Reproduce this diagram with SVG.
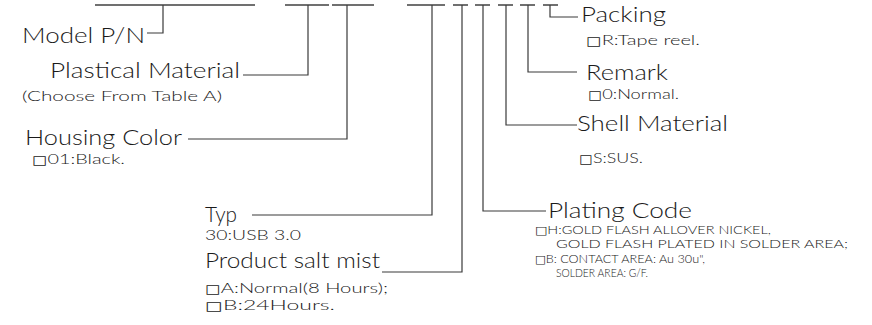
<svg xmlns="http://www.w3.org/2000/svg" width="872" height="325" viewBox="0 0 872 325">
<style>
.ln{fill:none;stroke:#3a3a3a;stroke-width:1.2}
.top{fill:none;stroke:#707070;stroke-width:2}
text{font-family:"Lato","Liberation Sans",sans-serif;fill:#1a1a1a;font-weight:300}
.b{font-size:21px}
.s{font-size:14.5px}
.p{font-size:12.3px}
.bx{font-family:"DejaVu Sans",sans-serif;font-size:12px;font-weight:normal}
.bp{font-family:"DejaVu Sans",sans-serif;font-size:11px;font-weight:normal}
</style>
<rect width="872" height="325" fill="#ffffff"/>
<g id="connectors">
<path class="top" d="M95 5H255M285 5H329M332 5H374M407 5H445M453 5H468M475 5H490M498 5H513M520 5H535M543 5H558"/>
<path class="ln" d="M163 5V33H147"/>
<path class="ln" d="M308 5V75H243"/>
<path class="ln" d="M347 5V139H188"/>
<path class="ln" d="M432 5V215H252"/>
<path class="ln" d="M462 5V272H382"/>
<path class="ln" d="M483 5V211H546"/>
<path class="ln" d="M506 5V125H577"/>
<path class="ln" d="M528 5V72H577"/>
<path class="ln" d="M550 5V17H578"/>
</g>
<g id="model"><text class="b" x="22" y="43" textLength="123" lengthAdjust="spacingAndGlyphs">Model P/N</text></g>
<g id="plastical">
<text class="b" x="50" y="78" textLength="190" lengthAdjust="spacingAndGlyphs">Plastical Material</text>
<text class="s" x="22" y="101" textLength="200" lengthAdjust="spacingAndGlyphs">(Choose From Table A)</text>
</g>
<g id="housing">
<text class="b" x="25" y="145" textLength="157" lengthAdjust="spacingAndGlyphs">Housing Color</text>
<text class="s" x="32" y="164" textLength="93" lengthAdjust="spacingAndGlyphs"><tspan class="bx">□</tspan>01:Black.</text>
</g>
<g id="typ">
<text class="b" x="205" y="222" textLength="32" lengthAdjust="spacingAndGlyphs">Typ</text>
<text class="s" x="205" y="240" textLength="96" lengthAdjust="spacingAndGlyphs">30:USB 3.0</text>
</g>
<g id="salt">
<text class="b" x="205" y="268" textLength="175" lengthAdjust="spacingAndGlyphs">Product salt mist</text>
<text class="s" x="205" y="293" textLength="183" lengthAdjust="spacingAndGlyphs"><tspan class="bx">□</tspan>A:Normal(8 Hours);</text>
<text class="s" x="205" y="310" textLength="130" lengthAdjust="spacingAndGlyphs"><tspan class="bx">□</tspan>B:24Hours.</text>
</g>
<g id="plating">
<text class="b" x="548" y="218" textLength="144" lengthAdjust="spacingAndGlyphs">Plating Code</text>
<text class="p" x="535" y="233.5" textLength="236" lengthAdjust="spacingAndGlyphs"><tspan class="bp">□</tspan>H:GOLD FLASH ALLOVER NICKEL,</text>
<text class="p" x="556" y="248" textLength="292" lengthAdjust="spacingAndGlyphs">GOLD FLASH PLATED IN SOLDER AREA;</text>
<text class="p" x="535" y="262.5" textLength="170" lengthAdjust="spacingAndGlyphs"><tspan class="bp">□</tspan>B: CONTACT AREA: Au 30u",</text>
<text class="p" x="556" y="277" textLength="92" lengthAdjust="spacingAndGlyphs">SOLDER AREA: G/F.</text>
</g>
<g id="shell">
<text class="b" x="577" y="131" textLength="151" lengthAdjust="spacingAndGlyphs">Shell Material</text>
<text class="s" x="579" y="163" textLength="64" lengthAdjust="spacingAndGlyphs"><tspan class="bx">□</tspan>S:SUS.</text>
</g>
<g id="remark">
<text class="b" x="586" y="80" textLength="82" lengthAdjust="spacingAndGlyphs">Remark</text>
<text class="s" x="588" y="99" textLength="91" lengthAdjust="spacingAndGlyphs"><tspan class="bx">□</tspan>0:Normal.</text>
</g>
<g id="packing">
<text class="b" x="581" y="22" textLength="85" lengthAdjust="spacingAndGlyphs">Packing</text>
<text class="s" x="586" y="45" textLength="114" lengthAdjust="spacingAndGlyphs"><tspan class="bx">□</tspan>R:Tape reel.</text>
</g>
</svg>
